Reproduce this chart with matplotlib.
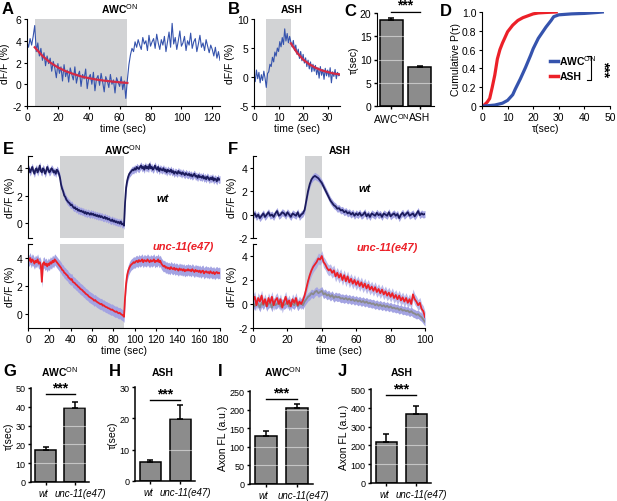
import numpy as np
import matplotlib
matplotlib.use("Agg")
import matplotlib.pyplot as plt
import matplotlib.transforms as mtrans

plt.rcParams['font.family'] = ['Liberation Sans', 'DejaVu Sans']
plt.rcParams['mathtext.fontset'] = 'custom'
plt.rcParams['mathtext.rm'] = 'Liberation Sans'
plt.rcParams['mathtext.bf'] = 'Liberation Sans:bold'
plt.rcParams['axes.unicode_minus'] = False

# ---------------- data ----------------
# A: single AWC trace, 1 s sampling
a_trace = [3.9, 3.4, 4.2, 3.6, 4.4, 5.4,
           3.0, 3.8, 2.6, 3.3, 2.2, 2.9, 1.7, 2.6, 1.9, 2.4, 1.2, 2.1, 1.5, 0.6, 1.9,
           1.0, 1.6, 0.3, 1.8, 0.7, 1.3, 0.2, 1.5, 0.9, 0.4, 1.6, 0.1, 0.8, 1.2, -0.2, 0.9, 0.5, 1.4, -0.4, 0.6,
           0.9, 0.0, 1.1, -0.6, 0.5, 0.8, -0.1, 1.0, 0.2, -0.7, 0.7, 0.3, -0.3, 0.9, 0.0, 0.4, -0.8, 0.6, 0.2,
           -0.2, 0.7, -0.5, 0.3, -1.3, 0.4,
           1.8, 2.7, 3.3, 3.0, 3.9, 3.4, 4.1, 3.6, 3.2, 4.3, 3.7, 4.0, 3.1, 4.5, 3.5, 3.9, 4.2, 3.3, 4.6, 3.8,
           3.2, 4.1, 3.6, 4.4, 3.0, 3.9, 4.8, 3.4, 5.6, 3.7, 4.3, 3.2, 4.0, 4.9, 3.5, 3.8, 4.4, 3.1, 4.0, 3.6,
           4.7, 3.3, 3.9, 4.2, 3.0, 3.7, 4.5, 3.4, 3.8, 3.1, 4.1, 3.5, 2.9, 3.6, 3.2, 2.6, 3.4, 2.4, 3.0, 2.2]
a_fit_t = [5, 10, 15, 20, 25, 30, 35, 40, 45, 50, 55, 60, 65]
a_fit = [3.4, 2.6, 2.0, 1.55, 1.2, 0.95, 0.72, 0.56, 0.43, 0.33, 0.25, 0.18, 0.12]

# B: single ASH trace, 0.5 s sampling
b_trace = [0.5, -0.8, 1.2, -0.3, 0.8, -1.0, 0.4, -0.6, 1.0, -0.2,
           -1.8, 0.6, 0.9, 2.2, 1.8, 3.4, 2.6, 4.3, 3.6, 5.0,
           4.4, 6.1, 5.2, 6.8, 5.6, 8.3, 6.2, 7.5, 5.9, 7.0,
           6.0, 5.2, 6.3, 4.6, 5.5, 3.9, 4.8, 3.2, 4.4, 2.8,
           3.9, 2.4, 3.3, 1.8, 2.9, 1.4, 2.6, 0.9, 2.2, 1.0,
           2.0, 0.4, 1.6, -0.2, 1.8, 0.3, 1.3, -0.4, 1.5, 0.2,
           1.2, 0.0, 1.6, -1.0, 0.9, 0.1, 1.3, -0.3, 0.8, 0.2, 0.4]
b_fit_t = [15, 17.5, 20, 22.5, 25, 27.5, 30, 32.5, 35]
b_fit = [5.8, 4.2, 3.0, 2.2, 1.6, 1.15, 0.85, 0.6, 0.45]

# C: tau
c_labels = ['AWC$^{\\rm ON}$', 'ASH']
c_tau = [18.5, 8.3]
c_err = [0.4, 0.3]

# D: cumulative distributions
d_ash_tau = [0.5, 2, 3, 4, 5, 6, 7, 8, 9, 10, 12, 14, 16, 18, 20, 22, 25, 29]
d_ash_p = [0, 0.04, 0.08, 0.2, 0.33, 0.5, 0.6, 0.67, 0.73, 0.79, 0.86, 0.91, 0.94, 0.96, 0.98, 0.99, 0.995, 1.0]
d_awc_tau = [1, 3, 5, 8, 10, 12, 13, 15, 17, 19, 20, 22, 24, 25, 27, 28, 30, 35, 40, 45, 47]
d_awc_p = [0, 0.005, 0.01, 0.03, 0.06, 0.12, 0.18, 0.29, 0.41, 0.54, 0.61, 0.72, 0.8, 0.84, 0.91, 0.95,
           0.97, 0.98, 0.985, 0.995, 1.0]

# E: AWC mean traces, 1 s sampling, 0..180 s
e_wt = [3.8, 4.0, 3.7, 3.9, 4.1, 3.8, 3.6, 3.9, 4.0, 3.7, 3.9, 4.2, 3.8, 3.7, 4.0, 3.9, 3.6, 3.8, 4.1, 3.9,
        3.7, 3.8, 4.0, 3.9, 3.7, 3.8, 3.6, 3.9, 3.8, 3.6,
        3.3, 2.8, 2.5, 2.3, 2.0, 1.9, 1.7, 1.6, 1.5, 1.45, 1.3, 1.35, 1.2, 1.1, 1.15, 1.0, 1.05, 0.9, 0.95, 0.85,
        0.9, 0.8, 0.85, 0.7, 0.8, 0.65, 0.75, 0.7, 0.6, 0.72,
        0.6, 0.68, 0.55, 0.62, 0.5, 0.58, 0.45, 0.55, 0.42, 0.5, 0.4, 0.35, 0.45, 0.3, 0.38, 0.25, 0.32, 0.2,
        0.15, 0.25, 0.1, 0.18, 0.05, 0.12, 0.0, 0.08, -0.05, 0.1, -0.1, -0.05,
        -0.2, 1.5, 2.6, 3.1, 3.4, 3.6, 3.7, 3.8, 3.9, 3.85, 4.0, 3.9, 4.1, 4.0, 3.95, 4.1, 4.2, 4.0, 4.1, 3.9,
        4.2, 4.0, 4.1, 3.95, 4.3, 4.0, 4.1, 3.9, 4.0, 4.2,
        4.0, 3.9, 4.1, 3.8, 4.0, 3.9, 3.85, 4.0, 3.8, 3.9, 3.7, 3.9, 3.8, 3.75, 3.9, 3.7, 3.8, 3.6, 3.75, 3.7,
        3.6, 3.8, 3.65, 3.7, 3.55, 3.7, 3.6, 3.5, 3.65, 3.55,
        3.5, 3.6, 3.45, 3.55, 3.4, 3.5, 3.6, 3.4, 3.45, 3.3, 3.5, 3.35, 3.4, 3.3, 3.45, 3.25, 3.35, 3.2, 3.4, 3.3,
        3.15, 3.3, 3.2, 3.35, 3.1, 3.25, 3.2, 3.05, 3.3, 3.15, 3.2]
e_wt_sem = 0.27
e_mut = [3.9, 3.8, 4.0, 3.7, 3.9, 3.8, 3.6, 3.8, 3.7, 3.9, 3.6, 3.7, 3.5, 2.3, 3.6, 3.7, 3.5, 3.6, 3.4, 3.6,
         3.5, 3.7, 3.6, 3.8, 3.7, 3.9, 3.8, 3.7, 3.6, 3.5,
         3.4, 3.3, 3.15, 3.1, 2.95, 2.9, 2.8, 2.75, 2.6, 2.55, 2.45, 2.5, 2.3, 2.25, 2.2, 2.1, 2.05, 1.95, 1.9, 1.8,
         1.75, 1.7, 1.6, 1.55, 1.45, 1.4, 1.35, 1.25, 1.2, 1.15,
         1.1, 1.05, 0.95, 1.0, 0.9, 0.85, 0.8, 0.75, 0.7, 0.72, 0.6, 0.62, 0.55, 0.5, 0.48, 0.42, 0.4, 0.35, 0.3,
         0.32, 0.25, 0.2, 0.15, 0.18, 0.1, 0.05, 0.08, 0.0, -0.05, -0.1,
         -0.2, 1.2, 2.2, 2.8, 3.1, 3.3, 3.45, 3.55, 3.6, 3.7, 3.65, 3.75, 3.8, 3.7, 3.85, 3.75, 3.8, 3.9, 3.7, 3.85,
         3.8, 3.75, 3.9, 3.8, 3.7, 3.85, 3.75, 3.8, 3.9, 3.7,
         3.8, 3.75, 3.9, 3.7, 3.8, 3.6, 3.5, 3.4, 3.45, 3.3, 3.35, 3.25, 3.3, 3.2, 3.35, 3.25, 3.2, 3.3, 3.15, 3.25,
         3.2, 3.1, 3.25, 3.15, 3.2, 3.1, 3.2, 3.05, 3.15, 3.1,
         3.2, 3.1, 3.15, 3.05, 3.2, 3.1, 3.0, 3.15, 3.05, 3.1, 3.0, 3.1, 2.95, 3.05, 3.1, 2.9, 3.0, 3.05, 2.95, 3.0,
         2.9, 3.05, 2.95, 2.9, 3.0, 2.85, 2.95, 3.0, 2.9, 2.95, 2.9]
e_mut_sem = 0.4

# F: ASH mean traces, 1 s sampling, 0..100 s
f_wt = [-0.1, 0.1, -0.2, 0.0, -0.3, -0.1, 0.1, -0.2, 0.0, 0.2, -0.1, 0.0, -0.2, 0.1, 0.3, -0.1, 0.0, 0.2, 0.1, -0.1,
        0.2, 0.0, -0.2, 0.1, 0.0, -0.1, 0.2, -0.2, 0.0, 0.1,
        0.4, 1.2, 2.0, 2.6, 3.0, 3.2, 3.3, 3.2, 3.1, 2.9, 2.7, 2.4, 2.1, 1.8, 1.5, 1.2, 1.0, 0.8, 0.7, 0.5,
        0.55, 0.35, 0.4, 0.2, 0.3, 0.1, 0.2, 0.0, 0.15, -0.1,
        0.1, -0.05, 0.15, -0.1, 0.0, 0.2, -0.15, 0.05, -0.2, 0.1, 0.0, -0.1, 0.15, -0.05, 0.05, -0.2, 0.1, 0.0,
        -0.1, 0.2, -0.15, 0.0, 0.1, -0.1, 0.05, -0.3, 0.0, 0.15, -0.1, 0.05, 0.2, -0.1, 0.0, 0.1, -0.15, 0.05,
        0.3, -0.05, 0.1, 0.0, 0.05]
f_wt_sem = 0.3
f_mut = [0.3, 0.6, -0.1, 0.5, 0.2, 0.7, 0.0, 0.4, -0.2, 0.5, 0.1, 0.6, -0.1, 0.3, 0.5, 0.0, 0.4, -0.3, 0.2, 0.6,
         0.0, 0.3, -0.2, 0.4, 0.1, 0.5, -0.1, 0.2, 0.0, 0.3,
         0.7, 1.3, 1.9, 2.4, 2.8, 3.1, 3.3, 3.5, 3.8, 3.7, 4.0, 3.5, 3.3, 3.0, 2.8, 2.9, 2.6, 2.8, 2.3, 2.6,
         2.2, 2.5, 2.0, 2.4, 1.9, 2.3, 1.8, 2.1, 1.7, 2.0,
         1.6, 1.9, 1.5, 1.8, 1.4, 1.7, 1.3, 1.6, 1.2, 1.45, 1.1, 1.4, 1.0, 1.25, 0.9, 1.2, 0.8, 1.05, 0.7, 0.95,
         0.6, 0.9, 0.5, 0.75, 0.4, 0.7, 0.3, 0.55, 0.2, 0.5, 0.1, 0.4, 0.0, 0.8, 0.4, 0.2, -0.1, 0.1, -0.4,
         -0.6, -1.1]
f_mut_sem = 0.45
f_wt_overlay = [0.1, -0.2, 0.2, 0.0, -0.3, 0.1, -0.1, 0.2, -0.2, 0.0, 0.1, -0.3, 0.2, -0.1, 0.0, 0.2, -0.2, 0.1,
                -0.1, 0.0, 0.2, -0.2, 0.1, 0.0, -0.1, 0.2, -0.2, 0.0, 0.1, -0.1,
                0.2, 0.4, 0.6, 0.7, 0.9, 0.8, 1.0, 1.1, 0.9, 1.0, 1.1, 0.8, 0.9, 0.7, 0.8, 0.6, 0.75, 0.5, 0.65,
                0.55, 0.6, 0.45, 0.5, 0.4, 0.5, 0.35, 0.45, 0.3, 0.4, 0.25,
                0.35, 0.2, 0.3, 0.15, 0.25, 0.1, 0.2, 0.05, 0.1, 0.0, 0.05, -0.1, 0.0, -0.15, -0.05, -0.2, -0.1,
                -0.25, -0.15, -0.3, -0.2, -0.35, -0.3, -0.4, -0.35, -0.5, -0.4, -0.55, -0.5, -0.6, -0.55, -0.7,
                -0.6, -0.75, -0.8, -0.9, -0.85, -1.0, -1.1, -1.3, -1.5]
f_overlay_sem = 0.35

# G-J bar charts
geno = ['wt', 'unc-11(e47)']
g_tau = [17.2, 39.2]
g_err = [1.5, 3.2]
h_tau = [6.0, 19.8]
h_err = [0.8, 4.5]
i_fl = [130, 205]
i_err = [13, 11]
j_fl = [218, 367]
j_err = [40, 42]

# ---------------- styling ----------------
W, H = 617, 502
fig = plt.figure(figsize=(W / 100, H / 100), dpi=100)

def fax(x1, y1, x2, y2):
    return fig.add_axes([x1 / W, 1 - y2 / H, (x2 - x1) / W, (y2 - y1) / H])

GRAY_BG = '#d2d3d5'
BLUE = '#3553ad'
RED = '#ec2028'
NAVY = '#1b1b5c'
BAND = '#a3a3e2'
BAR = '#8c8c8c'
TFS = 7.5

def clean(ax, bottom=True):
    for s in ['top', 'right']:
        ax.spines[s].set_visible(False)
    if not bottom:
        ax.spines['bottom'].set_visible(False)
        ax.set_xticks([])
    ax.tick_params(labelsize=TFS, length=2.5, width=0.8, pad=1.5)
    for s in ax.spines.values():
        s.set_linewidth(0.8)

def bracket(ax):
    # small end caps on the left spine
    tr = ax.transAxes
    ax.plot([0, 0.02], [1, 1], color='black', lw=0.8, transform=tr, clip_on=False)
    ax.plot([0, 0.02], [0, 0], color='black', lw=0.8, transform=tr, clip_on=False)

def letter(x, y, s):
    fig.text(x / W, 1 - y / H, s, fontsize=12, fontweight='bold', ha='center', va='center')

def title(x, y, s, fs=7.5):
    fig.text(x / W, 1 - y / H, s, fontsize=fs, fontweight='bold', ha='center', va='center')

# ---- A ----
axA = fax(27, 20, 220, 107)
tA = np.arange(len(a_trace))
axA.axvspan(5, 65, color=GRAY_BG, lw=0)
axA.plot(tA, a_trace, color=BLUE, lw=0.8)
axA.plot(a_fit_t, a_fit, color='#d42a45', lw=1.6)
axA.set_xlim(0, 125)
axA.set_ylim(-2, 6)
axA.set_xticks(range(0, 121, 20))
axA.set_yticks(range(-2, 7, 2))
axA.set_xlabel('time (sec)', fontsize=TFS, labelpad=1)
axA.set_ylabel('dF/F (%)', fontsize=TFS)
axA.yaxis.set_label_coords(-0.09, 0.5)
clean(axA)

# ---- B ----
axB = fax(254, 20, 340, 107)
tB = np.arange(len(b_trace)) * 0.5
axB.axvspan(5, 15, color=GRAY_BG, lw=0)
axB.plot(tB, b_trace, color=BLUE, lw=0.8)
axB.plot(b_fit_t, b_fit, color='#d42a45', lw=1.6)
axB.set_xlim(0, 35)
axB.set_ylim(-5, 10)
axB.set_xticks([0, 10, 20, 30])
axB.set_yticks([-5, 0, 5, 10])
axB.set_xlabel('time (sec)', fontsize=TFS, labelpad=1)
axB.set_ylabel('dF/F (%)', fontsize=TFS, labelpad=1)
clean(axB)

# ---- bar helper ----
def bars(ax, vals, errs, labels, ylim, yticks, ylabel, sig_y, width=0.7, italic=True, lfs=7):
    x = np.arange(len(vals))
    ax.bar(x, vals, width, color=BAR, edgecolor='black', lw=1.1, zorder=2)
    ax.errorbar(x, vals, yerr=[np.zeros(len(errs)), errs], fmt='none', ecolor='black',
                elinewidth=1.1, capsize=2.5, capthick=1.1, zorder=3)
    ax.set_xlim(-0.5, 1.5)
    ax.set_ylim(*ylim)
    ax.set_yticks(yticks)
    ax.set_xticks(x)
    ax.set_xticklabels(labels, fontsize=lfs, style='italic' if italic else 'normal')
    ax.set_ylabel(ylabel, fontsize=TFS, labelpad=1)
    for yt in yticks[1:]:
        ax.axhline(yt, color='white', lw=0.8, alpha=0.5, zorder=2.6)
    for s in ['top', 'right']:
        ax.spines[s].set_visible(False)
    for s in ['left', 'bottom']:
        ax.spines[s].set_linewidth(1.1)
        ax.spines[s].set_zorder(4)
    ax.tick_params(length=2.5, width=1, pad=1.5)
    ax.plot([0, 1], [sig_y, sig_y], color='black', lw=1, clip_on=False)
    ax.text(0.5, sig_y, '***', ha='center', va='bottom', fontsize=10, fontweight='bold')

def spread_labels(ax):
    # genotype labels sit apart: "wt" ends at its tick, the mutant label starts left of its tick
    lab = ax.get_xticklabels()
    lab[0].set_ha('right')
    lab[0].set_transform(lab[0].get_transform() +
                         mtrans.ScaledTranslation(3 / 100, 0, fig.dpi_scale_trans))
    lab[1].set_ha('left')
    lab[1].set_transform(lab[1].get_transform() +
                         mtrans.ScaledTranslation(-20 / 100, 0, fig.dpi_scale_trans))

# ---- C ----
axC = fax(377, 14, 434, 107)
bars(axC, c_tau, c_err, c_labels, (0, 20), [0, 5, 10, 15, 20], 'τ(sec)', 20.3, width=0.8,
     italic=False, lfs=TFS)
axC.tick_params(axis='y', labelsize=TFS)
axC.spines['left'].set_linewidth(0.8)
axC.spines['bottom'].set_linewidth(0.8)

# ---- D ----
axD = fax(482, 13, 610, 107)
axD.plot(d_ash_tau, d_ash_p, color=RED, lw=2.3)
axD.plot(d_awc_tau, d_awc_p, color=BLUE, lw=2.3)
axD.set_xlim(0, 50)
axD.set_ylim(0, 1.0)
axD.set_xticks(range(0, 51, 10))
axD.set_yticks([0, 0.2, 0.4, 0.6, 0.8, 1.0])
axD.set_yticklabels(['0', '0.2', '0.4', '0.6', '0.8', '1.0'])
axD.set_xlabel('τ(sec)', fontsize=TFS, labelpad=1)
axD.set_ylabel('Cumulative P(τ)', fontsize=TFS, labelpad=1)
clean(axD)
tr = axD.transAxes
axD.plot([0.53, 0.595], [0.484, 0.484], color=BLUE, lw=2.5, transform=tr, clip_on=False)
axD.plot([0.53, 0.595], [0.316, 0.316], color=RED, lw=2.5, transform=tr, clip_on=False)
axD.text(0.605, 0.484, 'AWC$^{\\rm ON}$', transform=tr, fontsize=7.5, fontweight='bold', va='center')
axD.text(0.605, 0.316, 'ASH', transform=tr, fontsize=7.5, fontweight='bold', va='center')
axD.plot([0.82, 0.855, 0.855, 0.82], [0.537, 0.537, 0.274, 0.274], color='black', lw=0.8,
         transform=tr, clip_on=False)
axD.text(0.95, 0.405, '***', transform=tr, fontsize=10, fontweight='bold', rotation=270,
         ha='center', va='center')

# ---- E ----
tE = np.arange(len(e_wt))
axE1 = fax(28, 157, 220, 239)
axE1.axvspan(30, 90, color=GRAY_BG, lw=0)
axE1.fill_between(tE, np.array(e_wt) - e_wt_sem, np.array(e_wt) + e_wt_sem, color=BAND, lw=0)
axE1.plot(tE, e_wt, color=NAVY, lw=1.3)
axE1.set_xlim(0, 180)
axE1.set_ylim(-1.1, 4.9)
axE1.set_yticks([0, 2, 4])
axE1.set_ylabel('dF/F (%)', fontsize=TFS, labelpad=1)
clean(axE1, bottom=False)
bracket(axE1)
axE1.text(0.70, 0.49, 'wt', transform=axE1.transAxes, fontsize=8, fontweight='bold',
          style='italic', ha='center', va='center')

axE2 = fax(28, 245, 220, 329)
axE2.axvspan(30, 90, color=GRAY_BG, lw=0)
axE2.fill_between(tE, np.array(e_mut) - e_mut_sem, np.array(e_mut) + e_mut_sem, color=BAND, lw=0)
axE2.plot(tE, e_mut, color=RED, lw=1.3)
axE2.set_xlim(0, 180)
axE2.set_ylim(-1, 5)
axE2.set_yticks([0, 2, 4])
axE2.set_xticks(range(0, 181, 20))
axE2.set_xlabel('time (sec)', fontsize=TFS, labelpad=1)
axE2.set_ylabel('dF/F (%)', fontsize=TFS, labelpad=1)
clean(axE2)
axE2.plot([0, 0.02], [1, 1], color='black', lw=0.8, transform=axE2.transAxes, clip_on=False)
axE2.text(0.81, 0.975, 'unc-11(e47)', transform=axE2.transAxes, fontsize=8, fontweight='bold',
          style='italic', color=RED, ha='center', va='center')

# ---- F ----
tF = np.arange(len(f_wt))
axF1 = fax(253, 157, 425, 239)
axF1.axvspan(30, 40, color=GRAY_BG, lw=0)
axF1.fill_between(tF, np.array(f_wt) - f_wt_sem, np.array(f_wt) + f_wt_sem, color=BAND, lw=0)
axF1.plot(tF, f_wt, color=NAVY, lw=1.3)
axF1.set_xlim(0, 100)
axF1.set_ylim(-2, 5)
axF1.set_yticks([-2, 0, 2, 4])
axF1.set_ylabel('dF/F (%)', fontsize=TFS, labelpad=1)
clean(axF1, bottom=False)
bracket(axF1)
axF1.text(0.65, 0.61, 'wt', transform=axF1.transAxes, fontsize=8, fontweight='bold',
          style='italic', ha='center', va='center')

axF2 = fax(253, 245, 425, 329)
axF2.axvspan(30, 40, color=GRAY_BG, lw=0)
ov = np.array(f_wt_overlay)
axF2.fill_between(tF, ov - f_overlay_sem, ov + f_overlay_sem, color=BAND, lw=0)
axF2.plot(tF, ov, color='#8a8a8a', lw=1.3)
mu = np.array(f_mut)
axF2.fill_between(tF, mu - f_mut_sem, mu + f_mut_sem, color=BAND, lw=0, alpha=0.75)
axF2.plot(tF, mu, color=RED, lw=1.3)
axF2.set_xlim(0, 100)
axF2.set_ylim(-2, 5)
axF2.set_yticks([-2, 0, 2, 4])
axF2.set_xticks(range(0, 101, 20))
axF2.set_xlabel('time (sec)', fontsize=TFS, labelpad=1)
axF2.set_ylabel('dF/F (%)', fontsize=TFS, labelpad=1)
clean(axF2)
axF2.plot([0, 0.02], [1, 1], color='black', lw=0.8, transform=axF2.transAxes, clip_on=False)
axF2.text(0.78, 0.964, 'unc-11(e47)', transform=axF2.transAxes, fontsize=8, fontweight='bold',
          style='italic', color=RED, ha='center', va='center')

# ---- G-J ----
axG = fax(31, 389, 89, 483)
bars(axG, g_tau, g_err, geno, (0, 50), [0, 10, 20, 30, 40, 50], 'τ(sec)', 46.8)
axH = fax(135, 388, 195, 482)
bars(axH, h_tau, h_err, geno, (0, 30), [0, 10, 20, 30], 'τ(sec)', 25.8)
axI = fax(250, 392, 313, 485)
bars(axI, i_fl, i_err, geno, (0, 250), [0, 50, 100, 150, 200, 250], 'Axon FL (a.u.)', 228)
axJ = fax(371, 390, 431, 484)
bars(axJ, j_fl, j_err, geno, (0, 500), [0, 100, 200, 300, 400, 500], 'Axon FL (a.u.)', 468)
for ax in [axG, axH, axI, axJ]:
    ax.tick_params(axis='y', labelsize=6.5)
    ax.tick_params(axis='x', labelsize=7)
    spread_labels(ax)

# ---- letters and titles ----
letter(8, 10, 'A'); letter(234, 10, 'B'); letter(350, 11, 'C'); letter(446, 11, 'D')
letter(8, 150, 'E'); letter(233, 150, 'F')
letter(10, 372, 'G'); letter(115, 372, 'H'); letter(220, 372, 'I'); letter(342, 372, 'J')
title(120, 9, 'AWC$^{\\rm ON}$'); title(292, 10, 'ASH')
title(123, 150, 'AWC$^{\\rm ON}$'); title(340, 151, 'ASH')
title(60, 372, 'AWC$^{\\rm ON}$'); title(163, 373, 'ASH')
title(283, 372, 'AWC$^{\\rm ON}$'); title(402, 373, 'ASH')

fig.savefig('out.png', dpi=100)
